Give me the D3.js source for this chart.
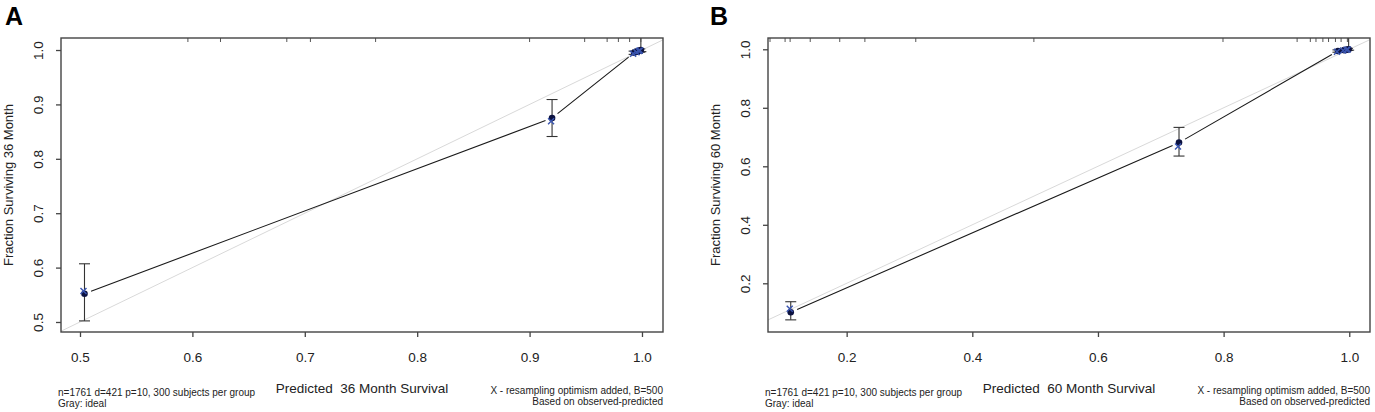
<!DOCTYPE html>
<html>
<head>
<meta charset="utf-8">
<script src="https://cdn.jsdelivr.net/npm/d3@7"></script>
<style>
  html, body { margin: 0; padding: 0; background: #fff; }
  svg { display: block; font-family: "Liberation Sans", Arial, sans-serif; }
</style>
</head>
<body>
<svg id="chart" width="1375" height="412"></svg>
<script>
// ---------------- DATA ----------------
const panelLetters = ["A", "B"];
const xTitles = ["Predicted  36 Month Survival", "Predicted  60 Month Survival"];
const yTitles = ["Fraction Surviving 36 Month", "Fraction Surviving 60 Month"];
const noteLeft = ["n=1761 d=421 p=10, 300 subjects per group", "Gray: ideal"];
const noteRight = ["X - resampling optimism added, B=500", "Based on observed-predicted"];

// Panel A (36 months)
const predA = [0.504, 0.920, 0.993, 0.996, 0.998, 0.999];
const obsA  = [0.552, 0.875, 0.995, 0.997, 0.999, 1.000];
const lowA  = [0.502, 0.841, 0.992, 0.994, 0.996, 0.997];
const highA = [0.607, 0.909, 0.998, 1.000, 1.002, 1.060];
const corrA = [0.557, 0.869, 0.993, 0.996, 0.998, 0.999];
const rugA  = [0.596, 0.625, 0.684, 0.705, 0.763, 0.900, 0.949, 0.969, 0.979, 0.989, 0.999];
const xTicksA = [0.5, 0.6, 0.7, 0.8, 0.9, 1.0];
const yTicksA = [0.5, 0.6, 0.7, 0.8, 0.9, 1.0];
const xDomainA = [0.4831, 1.0187];
const yDomainA = [0.4816, 1.0221];

// Panel B (60 months)
const predB = [0.111, 0.729, 0.982, 0.992, 0.997, 0.999];
const obsB  = [0.101, 0.681, 0.994, 0.997, 0.999, 1.000];
const lowB  = [0.075, 0.635, 0.990, 0.993, 0.996, 0.997];
const highB = [0.137, 0.733, 0.998, 1.001, 1.003, 1.080];
const corrB = [0.113, 0.668, 0.992, 0.996, 0.998, 0.999];
const rugB  = [0.078, 0.102, 0.110, 0.142, 0.189, 0.229, 0.310, 0.498, 0.799, 0.917, 0.938, 0.947, 0.958, 0.967, 0.978, 0.987, 0.997];
const xTicksB = [0.2, 0.4, 0.6, 0.8, 1.0];
const yTicksB = [0.2, 0.4, 0.6, 0.8, 1.0];
const xDomainB = [0.0748, 1.0330];
const yDomainB = [0.0335, 1.0386];

// ---------------- LAYOUT ----------------
const panels = [
  { letter: panelLetters[0], left: 61, right: 663, letterX: 5,
    pred: predA, obs: obsA, low: lowA, high: highA, corr: corrA, rug: rugA,
    xTicks: xTicksA, yTicks: yTicksA, xDomain: xDomainA, yDomain: yDomainA,
    xTitle: xTitles[0], yTitle: yTitles[0] },
  { letter: panelLetters[1], left: 768, right: 1370, letterX: 710,
    pred: predB, obs: obsB, low: lowB, high: highB, corr: corrB, rug: rugB,
    xTicks: xTicksB, yTicks: yTicksB, xDomain: xDomainB, yDomain: yDomainB,
    xTitle: xTitles[1], yTitle: yTitles[1] }
];
const plotTop = 38, plotBottom = 332;
const svg = d3.select("#chart");
const axisColor = "#444";
const font = '"Liberation Sans", Arial, sans-serif';

panels.forEach((p, i) => {
  const x = d3.scaleLinear().domain(p.xDomain).range([p.left, p.right]);
  const y = d3.scaleLinear().domain(p.yDomain).range([plotBottom, plotTop]);
  const g = svg.append("g");
  const clipId = "clip" + i;
  svg.append("defs").append("clipPath").attr("id", clipId)
    .append("rect").attr("x", p.left).attr("y", plotTop)
    .attr("width", p.right - p.left).attr("height", plotBottom - plotTop);

  // panel letter
  g.append("text").attr("x", p.letterX).attr("y", 25)
    .attr("font-size", 25).attr("font-weight", "bold").attr("font-family", font)
    .attr("fill", "#000").text(p.letter);

  const plot = g.append("g").attr("clip-path", `url(#${clipId})`);

  // ideal line
  const lo = Math.min(p.xDomain[0], p.yDomain[0]);
  const hi = Math.max(p.xDomain[1], p.yDomain[1]);
  plot.append("line")
    .attr("x1", x(lo)).attr("y1", y(lo)).attr("x2", x(hi)).attr("y2", y(hi))
    .attr("stroke", "#d9d9d9").attr("stroke-width", 1);

  // connecting line with gaps (type = "b")
  const pts = p.pred.map((v, k) => [x(v), y(p.obs[k])]);
  const gap = 7;
  let dstr = "";
  for (let k = 0; k < pts.length - 1; k++) {
    const [x1, y1] = pts[k], [x2, y2] = pts[k + 1];
    const L = Math.hypot(x2 - x1, y2 - y1);
    if (L <= 2 * gap) continue;
    const ux = (x2 - x1) / L, uy = (y2 - y1) / L;
    dstr += `M${x1 + ux * gap},${y1 + uy * gap}L${x2 - ux * gap},${y2 - uy * gap}`;
  }
  plot.append("path").attr("d", dstr).attr("fill", "none")
    .attr("stroke", "#1a1a1a").attr("stroke-width", 1.1);

  // error bars
  p.pred.forEach((v, k) => {
    const cx = x(v), y1 = y(p.low[k]), y2 = y(p.high[k]);
    plot.append("line").attr("x1", cx).attr("x2", cx).attr("y1", y1).attr("y2", y2)
      .attr("stroke", "#333").attr("stroke-width", 1.1);
    [y1, y2].forEach(yy => {
      plot.append("line").attr("x1", cx - 5.5).attr("x2", cx + 5.5).attr("y1", yy).attr("y2", yy)
        .attr("stroke", "#333").attr("stroke-width", 1.1);
    });
  });

  // points
  plot.selectAll(null).data(p.pred).enter().append("circle")
    .attr("cx", d => x(d)).attr("cy", (d, k) => y(p.obs[k])).attr("r", 3.3)
    .attr("fill", "#0c1240");
  // X markers (bias corrected)
  plot.selectAll(null).data(p.pred).enter().append("path")
    .attr("transform", (d, k) => `translate(${x(d) - 1},${y(p.corr[k])})`)
    .attr("d", "M-3,-3L3,3M-3,3L3,-3")
    .attr("stroke", "#3a55b0").attr("stroke-width", 1.4).attr("fill", "none");

  // rug at top
  g.selectAll(null).data(p.rug).enter().append("line")
    .attr("x1", d => x(d)).attr("x2", d => x(d)).attr("y1", plotTop).attr("y2", plotTop + 4)
    .attr("stroke", "#555").attr("stroke-width", 1);

  // box
  g.append("rect").attr("x", p.left).attr("y", plotTop)
    .attr("width", p.right - p.left).attr("height", plotBottom - plotTop)
    .attr("fill", "none").attr("stroke", axisColor).attr("stroke-width", 1.4);

  // x axis
  const xa = g.append("g").attr("transform", `translate(0,${plotBottom})`)
    .call(d3.axisBottom(x).tickValues(p.xTicks).tickFormat(d3.format(".1f")).tickSize(5).tickPadding(0));
  xa.select(".domain").remove();
  xa.selectAll("line").attr("stroke", axisColor).attr("stroke-width", 1.3);
  xa.selectAll("text").attr("font-size", 13.5).attr("font-family", font).attr("fill", "#222")
    .attr("y", 30).attr("dy", 0);

  // y axis
  const ya = g.append("g").attr("transform", `translate(${p.left},0)`)
    .call(d3.axisLeft(y).tickValues(p.yTicks).tickFormat(d3.format(".1f")).tickSize(5));
  ya.select(".domain").remove();
  ya.selectAll("line").attr("stroke", axisColor).attr("stroke-width", 1.3);
  ya.selectAll("text").attr("font-size", 13.5).attr("font-family", font).attr("fill", "#222")
    .attr("transform", "rotate(-90)").attr("text-anchor", "middle")
    .attr("x", 0).attr("y", -18).attr("dy", 0);

  // axis titles
  const cx = (p.left + p.right) / 2, cy = (plotTop + plotBottom) / 2;
  g.append("text").attr("x", cx).attr("y", 393).attr("text-anchor", "middle")
    .attr("font-size", 13.5).attr("font-family", font).attr("fill", "#222")
    .style("white-space", "pre").text(p.xTitle);
  g.append("text").attr("transform", `translate(${p.left - 48},${cy}) rotate(-90)`)
    .attr("text-anchor", "middle")
    .attr("font-size", 13).attr("font-family", font).attr("fill", "#222").text(p.yTitle);

  // notes
  noteLeft.forEach((t, k) => {
    g.append("text").attr("x", p.left - 3).attr("y", 396 + k * 10.5)
      .attr("font-size", 10).attr("font-family", font).attr("fill", "#222").text(t);
  });
  noteRight.forEach((t, k) => {
    g.append("text").attr("x", p.right).attr("y", 394 + k * 10.5).attr("text-anchor", "end")
      .attr("font-size", 10).attr("font-family", font).attr("fill", "#222").text(t);
  });
});
</script>
</body>
</html>
